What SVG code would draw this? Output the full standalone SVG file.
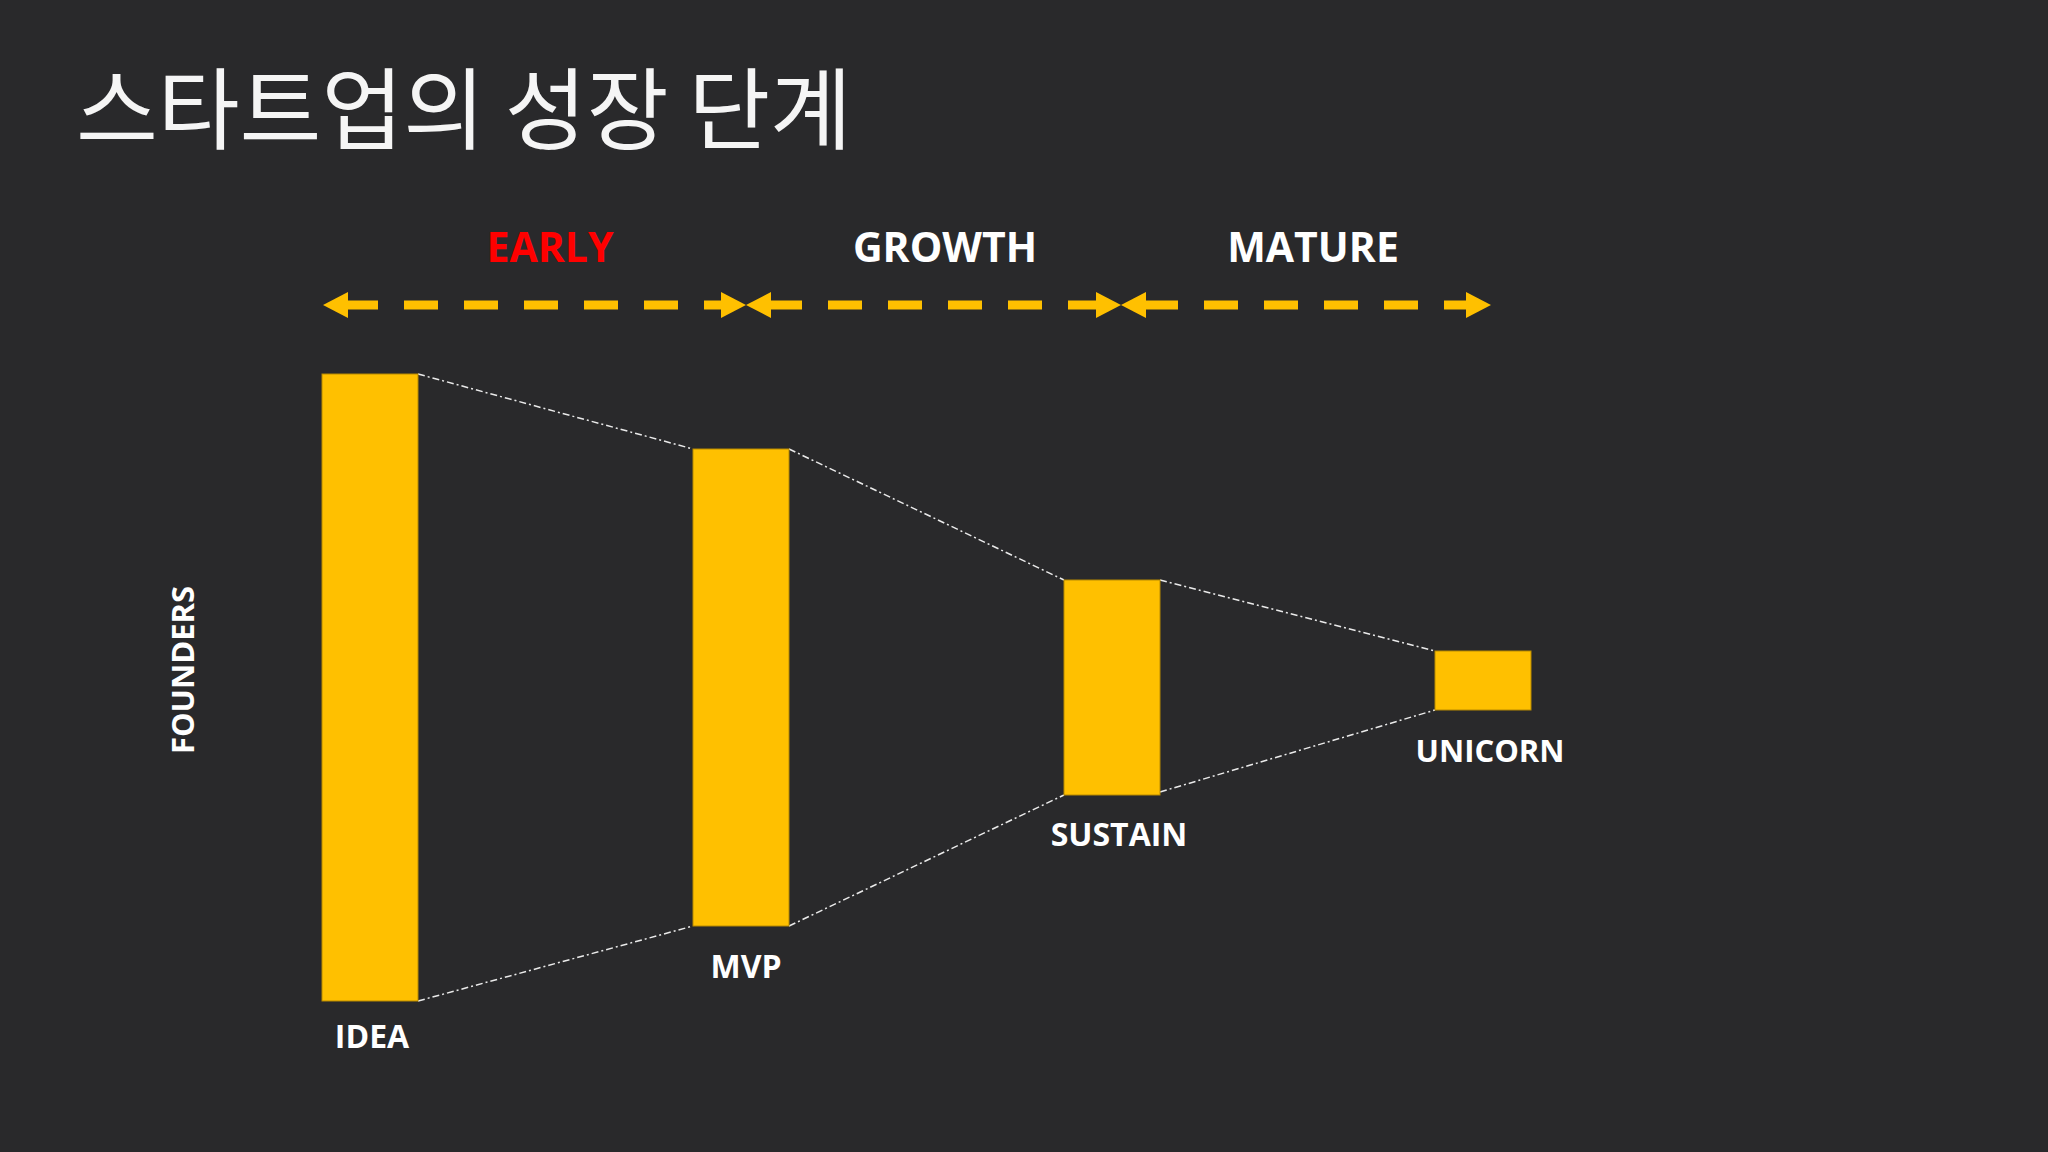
<svg xmlns="http://www.w3.org/2000/svg" width="2048" height="1152" viewBox="0 0 2048 1152">
  <defs>
    <style>
      .bar { fill: #FFC000; stroke: #B88A00; stroke-width: 1; }
      .lbl { font-family: "Open Sans", "Noto Sans", "Liberation Sans", sans-serif; font-weight: 700; fill: #FFFFFF; }
      .stage { font-size: 41px; text-anchor: middle; }
      .name { font-size: 32px; text-anchor: middle; }
      .dash { stroke: #FFC000; stroke-width: 9; stroke-dasharray: 34 26; fill: none; }
      .head { fill: #FFC000; }
      .guide { stroke: #FFFFFF; stroke-width: 1.5; stroke-dasharray: 7 3 2 3; fill: none; opacity: 0.9; }
    </style>
  </defs>
  <rect x="0" y="0" width="2048" height="1152" fill="#29292B"/>

  <g id="title">
    <text x="76" y="142" font-family="'Noto Sans CJK KR', 'Noto Sans', sans-serif" font-weight="400" font-size="89" fill="#F5F5F5" textLength="776" lengthAdjust="spacing">스타트업의 성장 단계</text>
  </g>

  <g id="stage-labels">
    <text class="lbl stage" x="550" y="262" style="fill:#FF0000">EARLY</text>
    <text class="lbl stage" x="945" y="262">GROWTH</text>
    <text class="lbl stage" x="1313" y="262">MATURE</text>
  </g>

  <g id="connectors">
    <!-- stage arrows -->
    <line class="dash" x1="344" y1="305" x2="721" y2="305"/>
    <polygon class="head" points="323,305 348,292 348,318"/>
    <polygon class="head" points="746,305 721,292 721,318"/>

    <line class="dash" x1="768" y1="305" x2="1096" y2="305"/>
    <polygon class="head" points="746,305 771,292 771,318"/>
    <polygon class="head" points="1121,305 1096,292 1096,318"/>

    <line class="dash" x1="1144" y1="305" x2="1466" y2="305"/>
    <polygon class="head" points="1121,305 1146,292 1146,318"/>
    <polygon class="head" points="1491,305 1466,292 1466,318"/>

    <!-- funnel guides -->
    <line class="guide" x1="418" y1="374" x2="693" y2="449"/>
    <line class="guide" x1="789" y1="449" x2="1064" y2="580"/>
    <line class="guide" x1="1160" y1="580" x2="1435" y2="651"/>
    <line class="guide" x1="418" y1="1001" x2="693" y2="926"/>
    <line class="guide" x1="789" y1="926" x2="1064" y2="795"/>
    <line class="guide" x1="1160" y1="792" x2="1435" y2="710"/>
  </g>

  <g id="founders">
    <text class="lbl" x="0" y="0" font-size="31" text-anchor="middle" transform="translate(194,670) rotate(-90)">FOUNDERS</text>
  </g>

  <g id="idea">
    <rect class="bar" x="322" y="374" width="96" height="627"/>
    <text class="lbl name" x="372" y="1048">IDEA</text>
  </g>
  <g id="mvp">
    <rect class="bar" x="693" y="449" width="96" height="477"/>
    <text class="lbl name" x="746" y="978">MVP</text>
  </g>
  <g id="sustain">
    <rect class="bar" x="1064" y="580" width="96" height="215"/>
    <text class="lbl name" x="1119" y="846">SUSTAIN</text>
  </g>
  <g id="unicorn">
    <rect class="bar" x="1435" y="651" width="96" height="59"/>
    <text class="lbl name" x="1490" y="762" font-size="31" style="font-size:31px">UNICORN</text>
  </g>
</svg>
